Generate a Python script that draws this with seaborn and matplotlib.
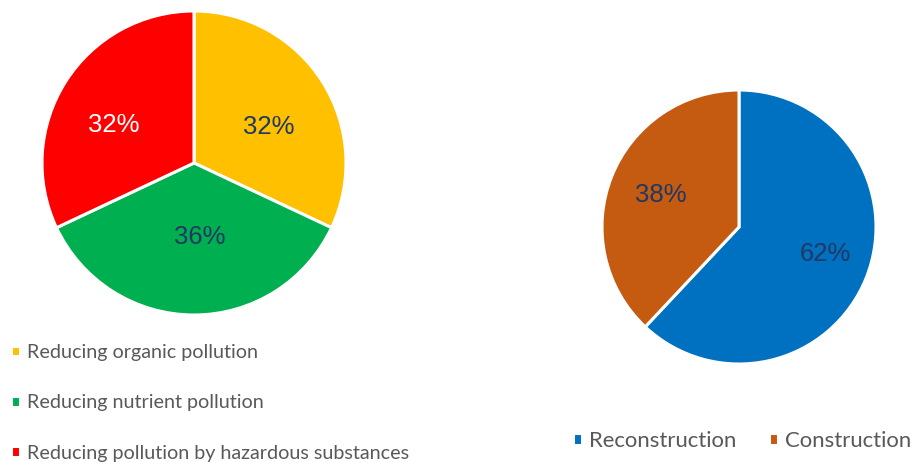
import matplotlib
matplotlib.use("Agg")
import matplotlib.pyplot as plt
import seaborn as sns
import pandas as pd

# Share of measures by pollution goal
goal_labels = ["Reducing organic pollution", "Reducing nutrient pollution",
               "Reducing pollution by hazardous substances"]
goal_shares = [32, 36, 32]
goal_colors = ["#FFC000", "#00B050", "#FF0000"]
goal_text_colors = ["#1F3864", "#1F3864", "#FFFFFF"]

# Share of measures by type of works
works_labels = ["Reconstruction", "Construction"]
works_shares = [62, 38]
works_colors = ["#0070C0", "#C55A11"]
works_text_colors = ["#1F3864", "#1F3864"]

# Where each percentage label sits inside its pie (unit-radius coordinates)
goal_label_pos = [(0.49, 0.24), (0.04, -0.49), (-0.53, 0.25)]
works_label_pos = [(0.63, -0.20), (-0.57, 0.23)]

sns.set_theme(style="white")
plt.rcParams["font.family"] = ["Liberation Sans", "DejaVu Sans"]

goals = pd.DataFrame({"label": goal_labels, "share": goal_shares})
works = pd.DataFrame({"label": works_labels, "share": works_shares})

W, H = 912, 462
fig = plt.figure(figsize=(W / 100, H / 100), dpi=100)
fig.patch.set_facecolor("white")


def px_axes(cx, cy, r):
    return fig.add_axes([(cx - r) / W, (H - cy - r) / H, 2 * r / W, 2 * r / H])


def draw_pie(ax, df, colors, text_colors, label_pos):
    wedges, _, autotexts = ax.pie(
        df["share"], colors=colors, startangle=90, counterclock=False,
        autopct=lambda p: f"{p:.0f}%", pctdistance=0.6,
        wedgeprops=dict(edgecolor="white", linewidth=2.2),
        textprops=dict(fontsize=18.5, family=["Liberation Sans", "DejaVu Sans"]),
    )
    for t, c, pos in zip(autotexts, text_colors, label_pos):
        t.set_color(c)
        t.set_position(pos)
    ax.set_xlim(-1.0, 1.0)
    ax.set_ylim(-1.0, 1.0)
    ax.set_aspect("equal")
    ax.axis("off")
    return wedges


ax1 = px_axes(194, 163, 152)
w1 = draw_pie(ax1, goals, goal_colors, goal_text_colors, goal_label_pos)

ax2 = px_axes(739, 227, 137)
w2 = draw_pie(ax2, works, works_colors, works_text_colors, works_label_pos)

legend_font = ["Lato", "DejaVu Sans"]
leg1 = fig.legend(
    w1, goal_labels, loc="upper left", bbox_to_anchor=(11 / W, 1 - 344 / H),
    frameon=False, ncol=1, handlelength=0.45, handleheight=0.45,
    handletextpad=0.36, labelspacing=1.69, borderpad=0, borderaxespad=0,
    prop=dict(family=legend_font, size=14.2), labelcolor="#595959",
)

leg2 = fig.legend(
    w2, works_labels, loc="upper left", bbox_to_anchor=(573 / W, 1 - 431 / H),
    frameon=False, ncol=2, handlelength=0.42, handleheight=0.42,
    handletextpad=0.32, columnspacing=1.45, borderpad=0, borderaxespad=0,
    prop=dict(family=legend_font, size=15.9), labelcolor="#595959",
)

fig.savefig("out.png", dpi=100, facecolor="white")
